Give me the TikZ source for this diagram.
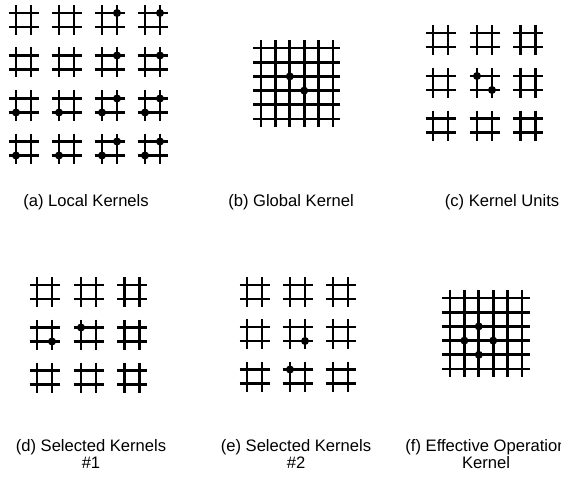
\documentclass[tikz,border=0pt]{standalone}
\usepackage{fontspec}
\setmainfont{Liberation Sans}
\usetikzlibrary{positioning}

% one 3x3 kernel unit (a "#" sign) centred at (#1,#2)
\newcommand{\hashat}[2]{%
  \draw[gridline] (#1-15,#2-7) -- (#1+15,#2-7) (#1-15,#2+7) -- (#1+15,#2+7)
    (#1-7.5,#2-15) -- (#1-7.5,#2+15) (#1+7.5,#2-15) -- (#1+7.5,#2+15);}

\begin{document}
\begin{tikzpicture}[x=1pt, y=-1pt,
  gridline/.style={line width=2.9pt, line cap=butt},
  knot/.style={radius=4},
  caption/.style={anchor=north, inner sep=0pt, align=center,
    font=\fontsize{16.6}{17}\selectfont}]
\useasboundingbox (0,0) rectangle (561,476);
% (a) local kernels
\foreach \cx in {23.5,66.5,109.5,152.5}
  \foreach \cy in {20,62.5,105.5,148.5} {\hashat{\cx}{\cy}}
\foreach \cx in {109.5,152.5}
  \foreach \cy in {20,62.5,105.5,148.5} \fill (\cx+7.5,\cy-7) circle[knot];
\foreach \cx in {23.5,66.5,109.5,152.5}
  \foreach \cy in {105.5,148.5} \fill (\cx-7.5,\cy+7) circle[knot];
\node[caption] (capa) at (86,194) {(a) Local Kernels};
% (b) global kernel
\foreach \k in {0,...,5} {
  \draw[gridline] (253,48+14.2*\k) -- (340,48+14.2*\k);
  \draw[gridline] (261+14.4*\k,40) -- (261+14.4*\k,127);
}
\fill (289.8,76.4) circle[knot];
\fill (304.2,90.6) circle[knot];
\node[caption] (capb) at (291,194) {(b) Global Kernel};
% (c) kernel units
\foreach \cx in {440.5,484.5,528}
  \foreach \cy in {40,83,125.5} {\hashat{\cx}{\cy}}
\fill (477,76) circle[knot];
\fill (492,90) circle[knot];
\node[caption] (capc) at (502,194) {(c) Kernel Units};
% (d) selected kernels #1
\foreach \cx in {44.5,88.5,132}
  \foreach \cy in {292,334.5,377.5} {\hashat{\cx}{\cy}}
\fill (52,341.5) circle[knot];
\fill (81,327.5) circle[knot];
\node[caption] (capd) at (91,439) {(d) Selected Kernels\\\#1};
% (e) selected kernels #2
\foreach \cx in {254.5,297.5,340.5}
  \foreach \cy in {292,334,376.5} {\hashat{\cx}{\cy}}
\fill (305,341) circle[knot];
\fill (290,369.5) circle[knot];
\node[caption] (cape) at (296,439) {(e) Selected Kernels\\\#2};
% (f) effective operation kernel
\foreach \k in {0,...,5} {
  \draw[gridline] (442,298+14.2*\k) -- (530,298+14.2*\k);
  \draw[gridline] (450+14.4*\k,290) -- (450+14.4*\k,377);
}
\fill (478.8,326.4) circle[knot];
\fill (464.4,340.6) circle[knot];
\fill (493.2,340.6) circle[knot];
\fill (478.8,354.8) circle[knot];
\node[caption] (capf) at (486,439) {(f) Effective Operation\\Kernel};
\end{tikzpicture}
\end{document}
